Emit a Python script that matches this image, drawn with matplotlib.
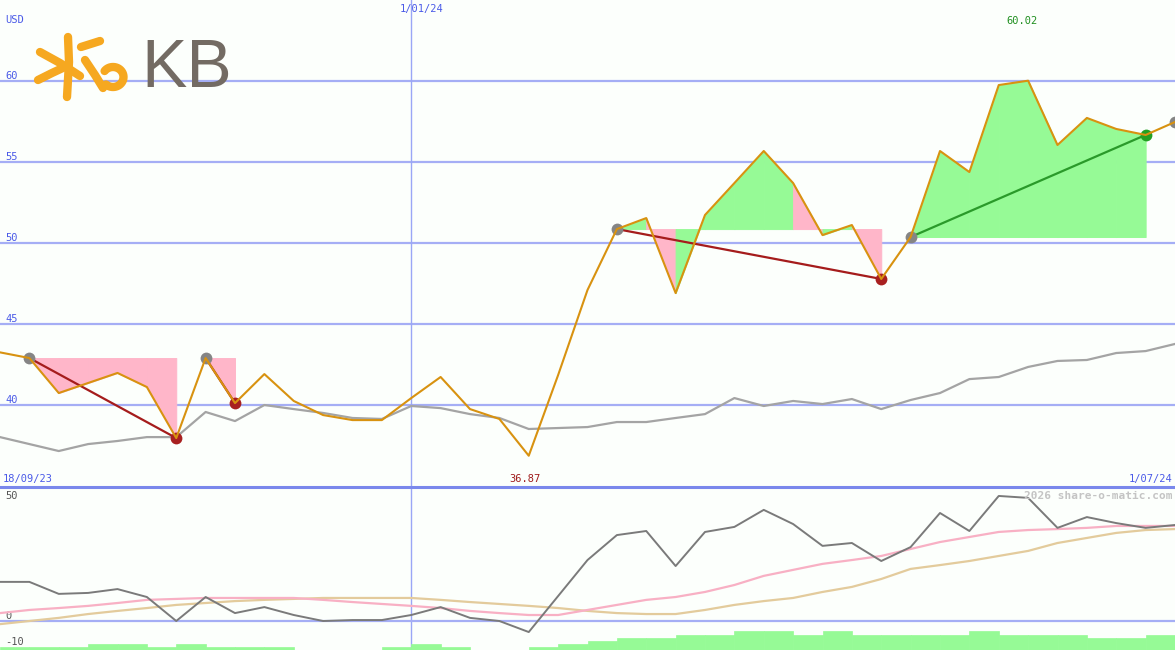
import matplotlib
matplotlib.use('Agg')
import matplotlib.pyplot as plt
from matplotlib.lines import Line2D
import numpy as np

# ---------------- data ----------------
weeks = list(range(41))
price = [43.25, 42.90, 40.74, 41.36, 41.98, 41.11, 37.96, 42.90, 40.12, 41.91,
         40.25, 39.38, 39.07, 39.07, 40.43, 41.73, 39.75, 39.14, 36.87, 41.85,
         47.10, 50.86, 51.54, 46.91, 51.73, 53.70, 55.68, 53.70, 50.49, 51.11,
         47.78, 50.37, 55.68, 54.38, 59.75, 60.02, 56.05, 57.72, 57.04, 56.67, 57.47]
avg = [38.02, 37.59, 37.16, 37.59, 37.78, 38.02, 38.02, 39.57, 39.01, 40.00,
       39.75, 39.51, 39.20, 39.14, 39.94, 39.81, 39.44, 39.20, 38.52, 38.58,
       38.64, 38.95, 38.95, 39.20, 39.44, 40.43, 39.94, 40.25, 40.06, 40.37,
       39.75, 40.31, 40.74, 41.60, 41.73, 42.35, 42.72, 42.78, 43.21, 43.33, 43.77]
osc = [16.3, 16.3, 11.3, 11.7, 13.3, 10.0, 0.0, 10.0, 3.3, 5.8,
       2.5, 0.0, 0.4, 0.4, 2.5, 5.8, 1.3, 0.0, -4.6, 10.4,
       25.4, 35.8, 37.5, 22.9, 37.1, 39.2, 46.3, 40.4, 31.3, 32.5,
       25.0, 30.8, 45.0, 37.5, 52.1, 51.3, 38.8, 43.3, 40.8, 38.8, 40.0]
osc_fast = [3.3, 4.6, 5.4, 6.3, 7.5, 8.8, 9.2, 9.6, 9.6, 9.6,
            9.6, 8.8, 7.9, 7.1, 6.3, 5.4, 4.2, 3.3, 2.5, 2.5,
            4.6, 6.7, 8.8, 10.0, 12.1, 15.0, 18.8, 21.3, 23.8, 25.4,
            27.1, 30.0, 32.9, 35.0, 37.1, 37.9, 38.3, 38.8, 39.6, 39.6, 39.6]
osc_slow = [-1.3, 0.0, 1.3, 2.9, 4.2, 5.4, 6.7, 7.5, 8.3, 8.8,
            9.2, 9.6, 9.6, 9.6, 9.6, 8.8, 7.9, 7.1, 6.3, 5.4,
            4.2, 3.3, 2.9, 2.9, 4.6, 6.7, 8.3, 9.6, 12.1, 14.2,
            17.5, 21.7, 23.3, 25.0, 27.1, 29.2, 32.5, 34.6, 36.7, 37.9, 38.3]
volume = [1, 1, 1, 2, 2, 1, 2, 1, 1, 1, 0, 0, 0, 1, 2, 1, 0, 0, 1, 2,
          3, 4, 4, 5, 5, 6, 6, 5, 6, 5, 5, 5, 5, 6, 5, 5, 5, 4, 4, 5]

# trend segments: start week, end week, per-week fill colours ('p' pink, 'g' green)
seg_start = [1, 7, 21, 31]
seg_end = [6, 8, 30, 39]
seg_fill = ['ppppp', 'p', 'gpggggpgp', 'gggggggg']
seg_line = ['#a51c1c', '#a51c1c', '#a51c1c', '#2a9a2a']

grey_pts = [1, 7, 21, 31, 40]
red_pts = [6, 8, 30]
green_pts = [39]

price_ticks = [40, 45, 50, 55, 60]
osc_ticks = [50, 0, -10]
osc_grid = [0]
date_left, date_mid, date_right = '18/09/23', '1/01/24', '1/07/24'
mid_week = 14
low_week, low_label = 18, '36.87'
high_week, high_label = 35, '60.02'

# ---------------- figure ----------------
W, H = 1175, 650
fig = plt.figure(figsize=(W / 100, H / 100), dpi=100)
fig.patch.set_facecolor('#fcfffc')
top_h = 487 / H
ax = fig.add_axes([0, 1 - top_h, 1, top_h])
ax2 = fig.add_axes([0, 0, 1, 1 - top_h])
for a in (ax, ax2):
    a.set_facecolor('none')
    for s in a.spines.values():
        s.set_visible(False)
    a.set_xticks([])
    a.set_yticks([])
    a.set_xlim(0, 40)

ax.set_ylim(34.94, 65.0)
ax2.set_ylim(-12.08, 55.83)

grid_c = '#a5aef5'
lab_c = '#4a5ae8'
mono = 'DejaVu Sans Mono'
fs = 7.5

for v in price_ticks:
    ax.axhline(v, color=grid_c, lw=1.6, zorder=1)
    ax.annotate(str(v), (0, v), xytext=(4, 0.3), textcoords='offset points',
                ha='left', va='bottom', color=lab_c, fontsize=fs, family=mono)
ax.axvline(mid_week, color='#9aa6f6', lw=1.0, zorder=1)
ax2.axvline(mid_week, color='#9aa6f6', lw=1.0, zorder=1)

# fills
for s, e, cols in zip(seg_start, seg_end, seg_fill):
    lvl = price[s]
    for k, c in zip(range(s, e), cols):
        col = '#ffb6c9' if c == 'p' else '#96fa96'
        ax.fill_between([k, k + 1], [price[k], price[k + 1]], lvl,
                        facecolor=col, edgecolor=col, lw=0.7, zorder=2)

ax.plot(weeks, avg, color='#a4a4a4', lw=1.6, zorder=3)

for s, e, c in zip(seg_start, seg_end, seg_line):
    ax.plot([s, e], [price[s], price[e]], color=c, lw=1.6, zorder=4)

ax.plot(grey_pts, [price[i] for i in grey_pts], 'o', color='#858585', ms=8.5, mew=0, zorder=5)
ax.plot(red_pts, [price[i] for i in red_pts], 'o', color='#a82020', ms=8.5, mew=0, zorder=5)
ax.plot(green_pts, [price[i] for i in green_pts], 'o', color='#22a022', ms=8.5, mew=0, zorder=5)

ax.plot(weeks, price, color='#d89210', lw=1.5, zorder=6)

# labels on top panel
fig.text(5 / W, 1 - 20 / H, 'USD', color=lab_c, fontsize=fs, family=mono, va='center', ha='left')
fig.text(3 / W, 1 - 479 / H, date_left, color=lab_c, fontsize=fs, family=mono, va='center', ha='left')
fig.text(1172 / W, 1 - 479 / H, date_right, color=lab_c, fontsize=fs, family=mono, va='center', ha='right')
fig.text((mid_week * W / 40 + 10) / W, 1 - 9 / H, date_mid, color=lab_c, fontsize=fs, family=mono,
         va='center', ha='center')
fig.text((low_week * W / 40 - 4) / W, 1 - 479 / H, low_label, color='#a01c1c', fontsize=fs, family=mono,
         va='center', ha='center')
fig.text((high_week * W / 40 - 6) / W, 1 - 21 / H, high_label, color='#1f8f1f', fontsize=fs, family=mono,
         va='center', ha='center')

# separator
fig.add_artist(Line2D([0, 1], [1 - 487 / H, 1 - 487 / H], color='#7a88ec', lw=2.2))

# ---------------- lower panel ----------------
for v in osc_grid:
    ax2.axhline(v, color=grid_c, lw=1.6, zorder=1)
for v in osc_ticks:
    ax2.annotate(str(v), (0, v), xytext=(4, -1.5 if v < 0 else 0.3), textcoords='offset points',
                 ha='left', va='bottom', color='#555555', fontsize=fs, family=mono)

axv = ax2.twinx()
axv.set_ylim(0, 52.6)
axv.set_xlim(0, 40)
axv.axis('off')
axv.bar(np.arange(len(volume)) + 0.5, volume, width=1.0, color='#96fa96',
        edgecolor='#96fa96', lw=0.5, zorder=1)

ax2.plot(weeks, osc_slow, color='#e3cb9c', lw=1.6, zorder=3)
ax2.plot(weeks, osc_fast, color='#f8b0c4', lw=1.6, zorder=3)
ax2.plot(weeks, osc, color='#7a7a7a', lw=1.4, zorder=4)

fig.text(1172 / W, 1 - 496 / H, '2026 share-o-matic.com', color='#c4c4c4', fontsize=8,
         family=mono, fontweight='bold', va='center', ha='right')

# ---------------- logo ----------------
def fx(x):
    return x / W

def fy(y):
    return 1 - y / H

yellow = '#f6a820'
strokes = [
    [(68, 37), (69, 62), (67, 97)],
    [(40, 52), (60, 63), (80, 76)],
    [(38, 80), (52, 73), (67, 66)],
    [(81, 47), (100, 41)],
    [(85, 60), (95, 75), (103, 88)],
]
for st in strokes:
    xs = [fx(p[0]) for p in st]
    ys = [fy(p[1]) for p in st]
    fig.add_artist(Line2D(xs, ys, color=yellow, lw=6, solid_capstyle='round',
                          solid_joinstyle='round'))
t = np.linspace(-2.5, 2.3, 40)
bx = 113 + 10.5 * np.cos(t)
by = 77 + 10 * np.sin(t)
fig.add_artist(Line2D([fx(v) for v in bx], [fy(v) for v in by], color=yellow, lw=6,
                      solid_capstyle='round'))
fig.text(fx(141), fy(87), 'KB', color='#736b63', fontsize=49, family='Liberation Sans',
         va='baseline', ha='left')

fig.savefig('out.png', dpi=100, facecolor=fig.get_facecolor())
